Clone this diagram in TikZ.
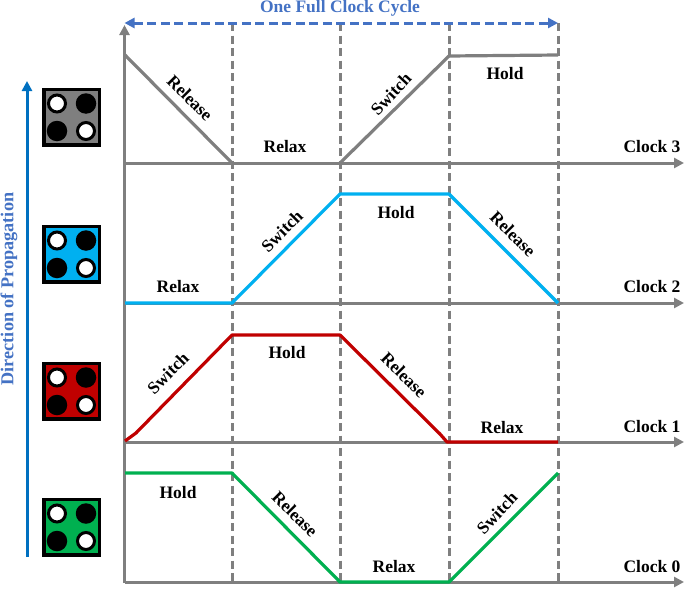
\documentclass[tikz,border=0pt]{standalone}
\usepackage{fontspec}
\setmainfont{Liberation Serif}
\usepackage{tikz}
\usetikzlibrary{arrows.meta, positioning}

\definecolor{axisgray}{RGB}{127,127,127}
\definecolor{cyclblue}{RGB}{68,114,196}
\definecolor{dirblue}{RGB}{0,112,192}
\definecolor{clkcyan}{RGB}{0,176,240}
\definecolor{clkred}{RGB}{192,0,0}
\definecolor{clkgreen}{RGB}{0,176,80}

\begin{document}
\begin{tikzpicture}[
    x=1pt,y=-1pt,
    axisline/.style={draw=axisgray,line width=3pt,-{Triangle[length=10pt,width=10pt]}},
    gridline/.style={draw=axisgray,line width=3pt,dash pattern=on 8pt off 4.5pt},
    wave/.style={line width=3.2pt,line join=round},
    phase/.style={font=\bfseries\fontsize{17.5}{19}\selectfont,inner sep=0pt,yshift=-1pt},
    chip/.style={draw=black,line width=3.5pt,minimum size=55.5pt,inner sep=0pt},
    whitedot/.style={circle,draw=black,fill=white,line width=3pt,minimum size=17pt,inner sep=0pt},
    blackdot/.style={circle,fill=black,minimum size=20.5pt,inner sep=0pt}
]
\useasboundingbox (0,0) rectangle (685,589);

% time points
\coordinate (top) at (124.5,25);
\coordinate (org) at (124.5,583);
\coordinate (a3) at (124.5,163);
\coordinate (a2) at (124.5,303);
\coordinate (a1) at (124.5,442);
\coordinate (a0) at (124.5,582);
\coordinate (e3) at (684,163);
\coordinate (e2) at (684,303);
\coordinate (e1) at (684,442);
\coordinate (e0) at (684,582);
\coordinate (t1a) at (232,23);
\coordinate (t1b) at (232,582);
\coordinate (t2a) at (340,23);
\coordinate (t2b) at (340,582);
\coordinate (t3a) at (449,23);
\coordinate (t3b) at (449,582);
\coordinate (t4a) at (558,23);
\coordinate (t4b) at (558,582);
\coordinate (cycl) at (124.5,23);
\coordinate (dira) at (27,557);
\coordinate (dirb) at (27,81);

% dashed grid
\draw[gridline] (t1a) -- (t1b);
\draw[gridline] (t2a) -- (t2b);
\draw[gridline] (t3a) -- (t3b);
\draw[gridline] (t4a) -- (t4b);

% axes
\draw[axisline] (org) -- (top);
\draw[axisline] (a3) -- (e3);
\draw[axisline] (a2) -- (e2);
\draw[axisline] (a1) -- (e1);
\draw[axisline] (a0) -- (e0);

% clock 3
\draw[wave,axisgray] (125,55) -- (232,163);
\draw[wave,axisgray] (340,163) -- (449,56) -- (558,55);
\node[phase,rotate=-45] (rel3) at (190,97) {Release};
\node[phase] (rlx3) at (285,146) {Relax};
\node[phase,rotate=47] (swi3) at (391,93) {Switch};
\node[phase] (hld3) at (505,73) {Hold};
\node[phase] (clk3) at (652,146) {Clock 3};

% clock 2
\draw[wave,clkcyan] (125,303) -- (232,303) -- (340,194) -- (449,194) -- (558,303);
\node[phase] (rlx2) at (178,286) {Relax};
\node[phase,rotate=45] (swi2) at (282,230) {Switch};
\node[phase] (hld2) at (396,212) {Hold};
\node[phase,rotate=-45] (rel2) at (513,233) {Release};
\node[phase] (clk2) at (652,286) {Clock 2};

% clock 1
\draw[wave,clkred] (125,441) -- (136,433) -- (232,335) -- (340,335) -- (440,434) -- (447,442) -- (558,442);
\node[phase,rotate=45] (swi1) at (168,372) {Switch};
\node[phase] (hld1) at (287,352) {Hold};
\node[phase,rotate=-45] (rel1) at (404,374) {Release};
\node[phase] (rlx1) at (502,427) {Relax};
\node[phase] (clk1) at (652,426) {Clock 1};

% clock 0
\draw[wave,clkgreen] (125,473) -- (232,473) -- (340,582) -- (449,582) -- (558,473);
\node[phase] (hld0) at (178,492) {Hold};
\node[phase,rotate=-45] (rel0) at (295,513) {Release};
\node[phase] (rlx0) at (394,566) {Relax};
\node[phase,rotate=47] (swi0) at (497,512) {Switch};
\node[phase] (clk0) at (652,566) {Clock 0};

% cells
\foreach \name/\col/\y in {c3/axisgray/117,c2/clkcyan/254,c1/clkred/391,c0/clkgreen/527} {
    \node[chip,fill=\col] (\name) at (71.5,\y) {};
    \node[whitedot] at ([xshift=-14.5pt,yshift=13.5pt]\name.center) {};
    \node[blackdot] at ([xshift=14.5pt,yshift=13.5pt]\name.center) {};
    \node[blackdot] at ([xshift=-14.5pt,yshift=-14pt]\name.center) {};
    \node[whitedot] at ([xshift=14.5pt,yshift=-14pt]\name.center) {};
}

% cycle and propagation arrows
\draw[cyclblue,line width=3pt,dash pattern=on 9pt off 4.5pt,{Triangle[length=10pt,width=10pt]}-{Triangle[length=10pt,width=10pt]}] (cycl) -- (t4a);
\node[font=\bfseries\fontsize{17.5}{19}\selectfont,text=cyclblue,inner sep=0pt] (cyctxt) at (340,8) {One Full Clock Cycle};
\draw[dirblue,line width=3pt,-{Triangle[length=10pt,width=10pt]}] (dira) -- (dirb);
\node[font=\bfseries\fontsize{18.2}{19}\selectfont,text=cyclblue,inner sep=0pt,rotate=90] (dirtxt) at (9,289) {Direction of Propagation};
\end{tikzpicture}
\end{document}
